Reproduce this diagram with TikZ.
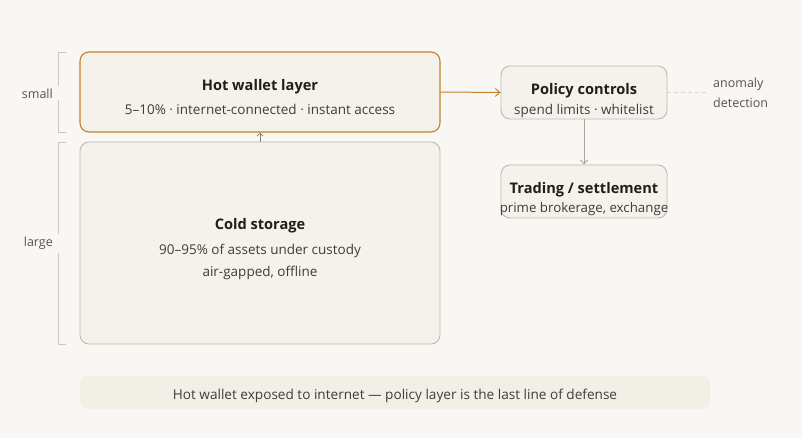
\documentclass[tikz,border=0pt]{standalone}
\usepackage{fontspec}
\setmainfont{Open Sans}
\usetikzlibrary{arrows.meta}
\definecolor{bg}{HTML}{F8F7F4}
\definecolor{boxfill}{HTML}{F4F2EB}
\definecolor{hotline}{HTML}{C8812A}
\definecolor{grayline}{HTML}{BDBAB2}
\definecolor{titlec}{HTML}{1F1E1C}
\definecolor{subc}{HTML}{3E3D3A}
\definecolor{labc}{HTML}{555450}
\definecolor{footfill}{HTML}{F1F0E7}
\tikzset{
  box/.style={draw=grayline, line width=0.9pt, fill=boxfill, rounded corners=9pt, inner sep=0pt},
  hotbox/.style={box, draw=hotline, line width=1.1pt},
  ttl/.style={text=titlec, font=\fontsize{14.6}{18}\selectfont\bfseries, inner sep=0pt, anchor=center},
  stl/.style={text=subc, font=\fontsize{13.5}{15}\selectfont, inner sep=0pt, anchor=center},
  lab/.style={text=labc, font=\fontsize{12.5}{15}\selectfont, inner sep=0pt},
  brk/.style={draw=grayline!80, line width=0.9pt},
  conn/.style={draw=grayline!90!black, line width=0.8pt, -{Straight Barb[length=4pt,width=7pt]}},
}
\begin{document}
\begin{tikzpicture}[x=1pt,y=-1pt]
\fill[bg] (0,0) rectangle (802,438);
\useasboundingbox (0,0) rectangle (802,438);

% boxes
\node[hotbox, minimum width=360pt, minimum height=80pt] (hot) at (260,92) {};
\node[box, minimum width=360pt, minimum height=202pt] (cold) at (260,243) {};
\node[box, minimum width=166pt, minimum height=53pt] (pol) at (584,92.5) {};
\node[box, minimum width=166pt, minimum height=53pt] (trd) at (584,191.5) {};
\node[fill=footfill, rounded corners=7pt, minimum width=630pt, minimum height=33pt, inner sep=0pt] (foot) at (395,392.5) {};

% texts
\node[ttl] (hott) at (260,86.5) {Hot wallet layer};
\node[stl] (hots) at (260,109.5) {5–10\% · internet-connected · instant access};
\node[ttl] (coldt) at (260,225.5) {Cold storage};
\node[stl] (colds) at (260,250.5) {90–95\% of assets under custody};
\node[stl] (colds2) at (260,272.5) {air-gapped, offline};
\node[ttl] (polt) at (584,90.5) {Policy controls};
\node[stl] (pols) at (584,110.5) {spend limits · whitelist};
\node[ttl] (trdt) at (584,189.5) {Trading / settlement};
\node[stl, font=\fontsize{13.3}{15}\selectfont] (trds) at (584,209.5) {prime brokerage, exchange};
\node[stl, font=\fontsize{13.6}{15}\selectfont] (foott) at (395,395.5) {Hot wallet exposed to internet — policy layer is the last line of defense};

\node[lab, anchor=west] (an1) at (713,84.5) {anomaly};
\node[lab, anchor=west] (an2) at (713,102.5) {detection};
\coordinate (dashend) at (706,92.5);

% brackets
\node[lab, anchor=east] (small) at (53,93.5) {small};
\node[lab, anchor=east] (large) at (53,243.5) {large};
\draw[brk] (66,52) -- (58,52) -- (58,86);
\draw[brk] (58,100) -- (58,132) -- (66,132);
\draw[brk] (66,142) -- (58,142) -- (58,234);
\draw[brk] (58,253) -- (58,344) -- (66,344);

% connectors
\draw[hotline, line width=1pt, -{Straight Barb[length=4.5pt,width=8pt]}] (hot.east) -- (pol.west);
\draw[conn] (pol.south) -- (trd.north);
\draw[conn, draw=grayline!70!black, -{Straight Barb[length=3pt,width=6pt]}] (cold.north) -- (hot.south);
\draw[grayline!60, line width=0.8pt, dash pattern=on 4pt off 3pt] (pol.east) -- (dashend);
\end{tikzpicture}
\end{document}
